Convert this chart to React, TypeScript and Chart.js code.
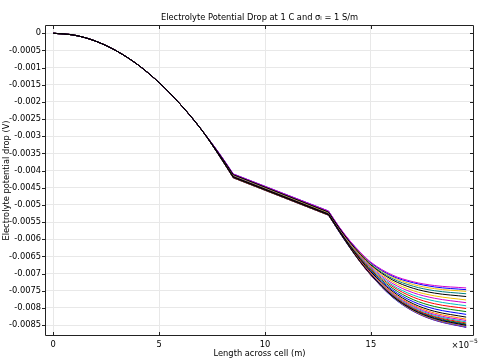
import React, { useEffect, useRef } from "react";
import { Chart, registerables } from "chart.js";

Chart.register(...registerables);

// x positions in units of 1e-5 m (axis shows "x10^-5")
const xHead = [0, 1, 2, 3, 4, 5, 6, 7];
// shared start of all curves (mV)
const headDrop = [0, -0.057, -0.23, -0.52, -0.92, -1.44, -2.07, -2.81];
const xTail = [8, 8.5, 13, 13.5, 14, 14.5, 15, 16, 17, 18, 19.5];
// per-series values at xTail (mV)
const tailSeries = [
  [-3.64, -4.10, -5.18, -5.64, -6.04, -6.38, -6.67, -7.04, -7.24, -7.35, -7.42],
  [-3.64, -4.10, -5.18, -5.65, -6.05, -6.39, -6.69, -7.07, -7.27, -7.39, -7.47],
  [-3.65, -4.11, -5.19, -5.65, -6.06, -6.41, -6.70, -7.10, -7.32, -7.44, -7.52],
  [-3.65, -4.12, -5.20, -5.66, -6.07, -6.42, -6.73, -7.14, -7.37, -7.50, -7.59],
  [-3.66, -4.12, -5.21, -5.67, -6.08, -6.44, -6.75, -7.18, -7.43, -7.57, -7.67],
  [-3.66, -4.13, -5.22, -5.68, -6.10, -6.47, -6.78, -7.23, -7.50, -7.65, -7.77],
  [-3.67, -4.14, -5.22, -5.69, -6.11, -6.49, -6.81, -7.28, -7.56, -7.72, -7.85],
  [-3.68, -4.15, -5.23, -5.70, -6.13, -6.51, -6.84, -7.33, -7.63, -7.80, -7.94],
  [-3.68, -4.16, -5.24, -5.71, -6.14, -6.53, -6.87, -7.37, -7.69, -7.88, -8.02],
  [-3.69, -4.17, -5.25, -5.72, -6.16, -6.55, -6.90, -7.42, -7.76, -7.96, -8.11],
  [-3.69, -4.17, -5.26, -5.73, -6.17, -6.57, -6.92, -7.47, -7.82, -8.03, -8.19],
  [-3.70, -4.18, -5.27, -5.74, -6.19, -6.59, -6.95, -7.51, -7.88, -8.10, -8.27],
  [-3.70, -4.19, -5.27, -5.75, -6.20, -6.61, -6.97, -7.55, -7.92, -8.15, -8.33],
  [-3.71, -4.19, -5.28, -5.76, -6.21, -6.62, -6.99, -7.57, -7.95, -8.19, -8.37],
  [-3.71, -4.19, -5.28, -5.76, -6.21, -6.63, -7.00, -7.59, -7.98, -8.22, -8.41],
  [-3.71, -4.20, -5.29, -5.76, -6.22, -6.64, -7.01, -7.61, -8.01, -8.25, -8.44],
  [-3.71, -4.20, -5.29, -5.77, -6.22, -6.64, -7.02, -7.62, -8.02, -8.27, -8.47],
  [-3.71, -4.20, -5.29, -5.77, -6.23, -6.65, -7.02, -7.64, -8.04, -8.29, -8.49],
  [-3.72, -4.20, -5.29, -5.77, -6.23, -6.66, -7.03, -7.65, -8.06, -8.31, -8.51],
  [-3.72, -4.21, -5.30, -5.77, -6.23, -6.66, -7.03, -7.65, -8.07, -8.32, -8.52],
  [-3.72, -4.21, -5.30, -5.78, -6.23, -6.66, -7.04, -7.66, -8.07, -8.33, -8.54],
  [-3.72, -4.21, -5.30, -5.78, -6.24, -6.66, -7.04, -7.67, -8.08, -8.34, -8.55],
  [-3.72, -4.21, -5.30, -5.78, -6.24, -6.67, -7.05, -7.67, -8.09, -8.35, -8.56],
  [-3.72, -4.21, -5.30, -5.78, -6.24, -6.67, -7.05, -7.68, -8.10, -8.36, -8.57],
];
const seriesColors = [
  "#d000d0", "#0000ff", "#f0c000", "#008080", "#000000", "#f0c000",
  "#d000d0", "#00c0c0", "#ff0000", "#008000", "#0000ff", "#000000",
  "#ff8000", "#d000d0", "#00c0c0", "#ff0000", "#008000", "#0000ff",
  "#000000", "#f0c000", "#8000ff", "#00c0c0", "#ff0000", "#0000ff",
];
const yTicks = [0, -0.0005, -0.001, -0.0015, -0.002, -0.0025, -0.003, -0.0035, -0.004,
  -0.0045, -0.005, -0.0055, -0.006, -0.0065, -0.007, -0.0075, -0.008, -0.0085];
const xTicks = [0, 5, 10, 15];

// kinks in the curves (x, units 1e-5 m)
const KINK_A = 8.5;
const KINK_B = 13;

const TITLE = "Electrolyte Potential Drop at 1 C and \u03c3\u2097 = 1 S/m";
const X_TITLE = "Length across cell (m)";
const Y_TITLE = "Electrolyte potential drop (V)";
const FONT = "DejaVu Sans";
const FS = 8.3;

const fmt = (v: number) => (v === 0 ? "0" : String(parseFloat(v.toFixed(4))));

const framePlugin = {
  id: "frame",
  afterDraw(chart: any) {
    const { ctx, chartArea: ca, scales } = chart;
    const xs = scales.x;
    const ys = scales.y;
    ctx.save();
    ctx.strokeStyle = "#222";
    ctx.lineWidth = 1;
    ctx.beginPath();
    ctx.rect(Math.round(ca.left) + 0.5, Math.round(ca.top) + 0.5,
      Math.round(ca.right - ca.left) - 1, Math.round(ca.bottom - ca.top) - 1);
    ctx.stroke();
    ctx.beginPath();
    yTicks.forEach((v) => {
      const py = Math.round(ys.getPixelForValue(v)) + 0.5;
      ctx.moveTo(ca.left - 3, py);
      ctx.lineTo(ca.left, py);
      ctx.moveTo(ca.right - 4, py);
      ctx.lineTo(ca.right, py);
    });
    xTicks.forEach((v) => {
      const px = Math.round(xs.getPixelForValue(v)) + 0.5;
      ctx.moveTo(px, ca.bottom);
      ctx.lineTo(px, ca.bottom - 4);
      ctx.moveTo(px, ca.top);
      ctx.lineTo(px, ca.top + 4);
    });
    ctx.stroke();

    ctx.fillStyle = "#000";
    ctx.font = `${FS}px "${FONT}"`;
    ctx.textAlign = "center";
    ctx.textBaseline = "alphabetic";
    ctx.fillText(TITLE, (ca.left + ca.right) / 2, 19.5);
    ctx.textBaseline = "middle";
    ctx.fillText(X_TITLE, (ca.left + ca.right) / 2, 354);
    ctx.save();
    ctx.translate(7, (ca.top + ca.bottom) / 2);
    ctx.rotate(-Math.PI / 2);
    ctx.fillText(Y_TITLE, 0, 0);
    ctx.restore();
    // x10^-5 multiplier
    ctx.textAlign = "right";
    ctx.fillText("\u00d710", 469, 345.5);
    ctx.font = `6px "${FONT}"`;
    ctx.textAlign = "left";
    ctx.fillText("\u22125", 469, 341);
    ctx.restore();
  },
};

export default function App() {
  const ref = useRef<HTMLCanvasElement | null>(null);
  useEffect(() => {
    document.body.style.margin = "0";
    const canvas = ref.current;
    if (!canvas) return;
    Chart.defaults.font.family = FONT;
    Chart.defaults.font.size = FS;
    Chart.defaults.color = "#000";
    const datasets: any[] = [];
    tailSeries.forEach((tail, i) => {
      const pts = [
        ...xHead.map((x, k) => ({ x, y: headDrop[k] * 1e-3 })),
        ...xTail.map((x, k) => ({ x, y: tail[k] * 1e-3 })),
      ];
      const color = seriesColors[i];
      const order = color === "#000000" ? -1 : 0;
      const base = {
        borderColor: color,
        backgroundColor: color,
        borderWidth: 1,
        pointRadius: 0,
        fill: false,
        order,
      };
      // smooth parabolic start
      datasets.push({ ...base, label: `s${i + 1}a`, data: pts.filter((p) => p.x <= KINK_A), cubicInterpolationMode: "monotone" });
      // straight middle section
      datasets.push({ ...base, label: `s${i + 1}b`, data: pts.filter((p) => p.x >= KINK_A && p.x <= KINK_B), tension: 0 });
      // smooth flattening end
      datasets.push({ ...base, label: `s${i + 1}c`, data: pts.filter((p) => p.x >= KINK_B), cubicInterpolationMode: "monotone" });
    });
    const chart = new Chart(canvas, {
      type: "line",
      data: { datasets },
      plugins: [framePlugin],
      options: {
        animation: false,
        responsive: false,
        maintainAspectRatio: false,
        devicePixelRatio: 1,
        layout: { padding: { top: 25, right: 9, left: 0, bottom: 0 } },
        plugins: { legend: { display: false }, tooltip: { enabled: false }, title: { display: false } },
        scales: {
          x: {
            type: "linear",
            min: -0.39,
            max: 19.87,
            afterBuildTicks: (s: any) => { s.ticks = xTicks.map((value) => ({ value })); },
            afterFit: (s: any) => { s.height = 27; },
            grid: { color: "#e8e8e8", lineWidth: 1, drawTicks: false },
            border: { display: false },
            ticks: { padding: 4, maxRotation: 0, autoSkip: false, callback: (v: any) => String(v) },
          },
          y: {
            type: "linear",
            min: -0.00882,
            max: 0.00024,
            afterBuildTicks: (s: any) => { s.ticks = yTicks.map((value) => ({ value })); },
            afterFit: (s: any) => { s.width = 45; },
            grid: { color: "#e8e8e8", lineWidth: 1, drawTicks: false },
            border: { display: false },
            ticks: { padding: 4, autoSkip: false, callback: (v: any) => fmt(Number(v)) },
          },
        },
      },
    });
    return () => chart.destroy();
  }, []);
  return (
    <div style={{ position: "fixed", left: 0, top: 0, width: 483, height: 363, background: "#fff" }}>
      <canvas ref={ref} width={483} height={363} style={{ display: "block", width: 483, height: 363 }} />
    </div>
  );
}
